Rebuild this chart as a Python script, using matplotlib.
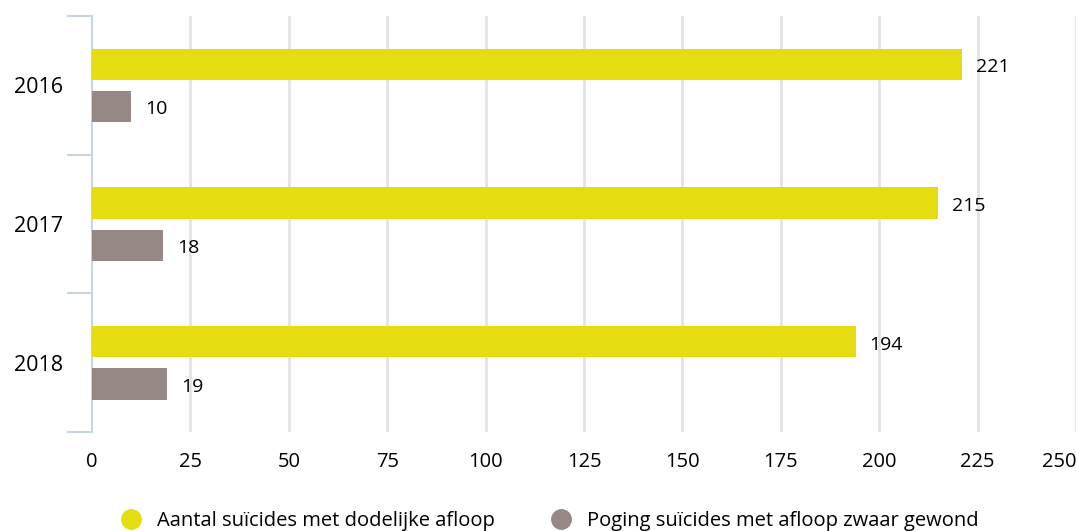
import matplotlib.pyplot as plt
import numpy as np

plt.rcParams['font.family'] = ['Open Sans', 'DejaVu Sans']

years = ['2016', '2017', '2018']
dodelijk = [221, 215, 194]
zwaar_gewond = [10, 18, 19]
labels = ['Aantal suïcides met dodelijke afloop', 'Poging suïcides met afloop zwaar gewond']
xticks = [0, 25, 50, 75, 100, 125, 150, 175, 200, 225, 250]

yellow = '#e6dc12'
grey = '#968885'

fig = plt.figure(figsize=(10.79, 5.31), dpi=100)
ax = fig.add_axes([0.0853, 0.186, 0.912, 0.784])

pos = np.arange(len(years))
h = 0.225
off = 0.152
b1 = ax.barh(pos - off, dodelijk, height=h, color=yellow, label=labels[0], zorder=3)
b2 = ax.barh(pos + off, zwaar_gewond, height=h, color=grey, label=labels[1], zorder=3)
for b in (b1, b2):
    for t in ax.bar_label(b, padding=10, fontsize=14):
        t.set_y(-2)

ax.set_ylim(2.5, -0.5)
ax.set_xlim(0, 250)
ax.set_xticks(xticks)
ax.set_yticks(pos, years)
ax.set_yticks([-0.5, 0.5, 1.5, 2.5], minor=True)
ax.tick_params(axis='y', which='major', length=0, pad=21, labelsize=15.5)
ax.tick_params(axis='y', which='minor', length=18, width=1.5, color='#c8d2ea')
ax.tick_params(axis='x', length=0, pad=14, labelsize=14.5)
ax.get_xticklabels()[-1].set_horizontalalignment('right')

for x in xticks[1:]:
    ax.axvline(x, color='#e3e3e3', lw=2, zorder=0)

for s in ['top', 'right', 'bottom']:
    ax.spines[s].set_visible(False)
ax.spines['left'].set_color('#c8d2ea')
ax.spines['left'].set_linewidth(1.5)

handles = [plt.Line2D([], [], marker='o', ls='', ms=14, color=yellow),
           plt.Line2D([], [], marker='o', ls='', ms=14, color=grey)]
fig.legend(handles, labels, loc='lower center', bbox_to_anchor=(0.505, -0.035), ncol=2,
           frameon=False, fontsize=14.5, handletextpad=0.3, columnspacing=2.3)

fig.savefig('out.png', dpi=100)
